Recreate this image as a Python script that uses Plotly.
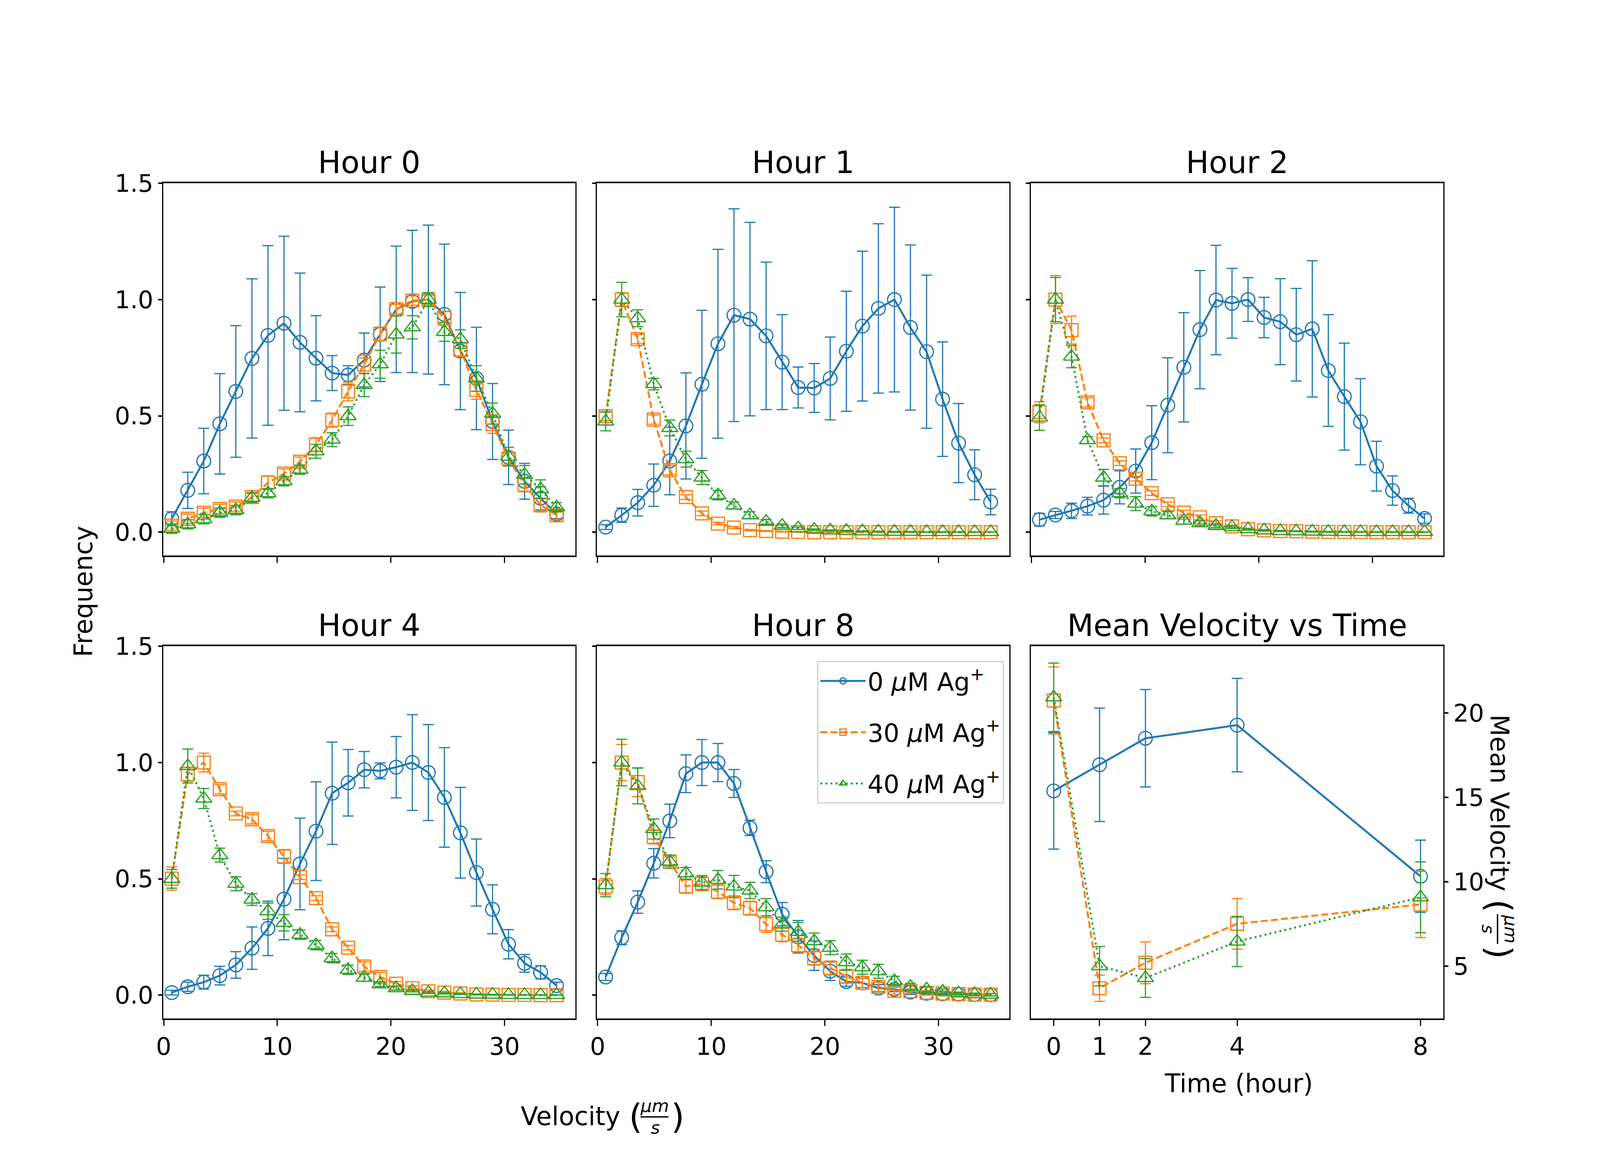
import plotly.graph_objects as go

# ---------------- data ----------------
velocity = [0.71, 2.12, 3.53, 4.94, 6.35, 7.77, 9.18, 10.59, 12.0, 13.41, 14.83, 16.24, 17.65,
            19.06, 20.47, 21.89, 23.3, 24.71, 26.12, 27.53, 28.95, 30.36, 31.77, 33.18, 34.59]

series_names = ["0 <i>μ</i>M Ag<sup>+</sup>", "30 <i>μ</i>M Ag<sup>+</sup>", "40 <i>μ</i>M Ag<sup>+</sup>"]
panel_titles = ["Hour 0", "Hour 1", "Hour 2", "Hour 4", "Hour 8", "Mean Velocity vs Time"]

# Hour 0
h0_0uM = [0.058, 0.18, 0.306, 0.466, 0.605, 0.747, 0.846, 0.898, 0.816, 0.748, 0.684, 0.676, 0.74, 0.851, 0.958,
          0.992, 1.0, 0.936, 0.779, 0.661, 0.476, 0.322, 0.219, 0.146, 0.078]
h0_0uM_err = [0.03, 0.078, 0.141, 0.216, 0.283, 0.342, 0.386, 0.374, 0.298, 0.183, 0.075, 0.04, 0.116, 0.203,
              0.272, 0.306, 0.32, 0.302, 0.252, 0.22, 0.163, 0.117, 0.077, 0.05, 0.02]
h0_30uM = [0.028, 0.058, 0.084, 0.10, 0.11, 0.151, 0.213, 0.252, 0.303, 0.376, 0.482, 0.605, 0.721, 0.852, 0.959,
           0.996, 1.0, 0.92, 0.785, 0.611, 0.465, 0.316, 0.204, 0.117, 0.073]
h0_30uM_err = [0.02, 0.02, 0.02, 0.02, 0.02, 0.02, 0.03, 0.02, 0.02, 0.03, 0.03, 0.04, 0.04, 0.03, 0.02,
               0.02, 0.02, 0.03, 0.03, 0.04, 0.04, 0.03, 0.03, 0.03, 0.02]
h0_40uM = [0.015, 0.034, 0.056, 0.084, 0.095, 0.148, 0.168, 0.219, 0.269, 0.348, 0.398, 0.499, 0.633, 0.722, 0.85,
           0.881, 1.0, 0.861, 0.83, 0.661, 0.51, 0.325, 0.247, 0.185, 0.107]
h0_40uM_err = [0.02, 0.02, 0.02, 0.02, 0.02, 0.02, 0.02, 0.02, 0.02, 0.03, 0.03, 0.04, 0.05, 0.06, 0.08,
               0.05, 0.03, 0.04, 0.04, 0.055, 0.045, 0.04, 0.04, 0.04, 0.02]

# Hour 1
h1_0uM = [0.022, 0.073, 0.127, 0.202, 0.306, 0.457, 0.636, 0.81, 0.933, 0.916, 0.844, 0.731, 0.622, 0.62, 0.661,
          0.778, 0.886, 0.962, 1.0, 0.88, 0.776, 0.572, 0.383, 0.247, 0.13]
h1_0uM_err = [0.01, 0.031, 0.057, 0.091, 0.145, 0.228, 0.318, 0.406, 0.457, 0.416, 0.317, 0.204, 0.088, 0.105,
              0.178, 0.258, 0.322, 0.364, 0.397, 0.355, 0.329, 0.246, 0.17, 0.107, 0.055]
h1_30uM = [0.499, 1.0, 0.83, 0.484, 0.267, 0.151, 0.081, 0.037, 0.02, 0.009, 0.005, 0.002, 0.001, 0.0, 0.0,
           0.0, 0.0, 0.0, 0.0, 0.0, 0.0, 0.0, 0.0, 0.0, 0.0]
h1_30uM_err = [0.02, 0.03, 0.02, 0.02, 0.02, 0.01, 0.01, 0.005, 0.005, 0.003, 0.002, 0.001, 0.001, 0.0, 0.0,
               0.0, 0.0, 0.0, 0.0, 0.0, 0.0, 0.0, 0.0, 0.0, 0.0]
h1_40uM = [0.476, 1.0, 0.92, 0.637, 0.448, 0.314, 0.235, 0.159, 0.115, 0.073, 0.045, 0.028, 0.017, 0.011, 0.008,
           0.006, 0.004, 0.003, 0.002, 0.002, 0.001, 0.001, 0.001, 0.001, 0.001]
h1_40uM_err = [0.04, 0.074, 0.036, 0.025, 0.034, 0.034, 0.03, 0.02, 0.015, 0.015, 0.01, 0.008, 0.005, 0.003,
               0.002, 0.002, 0.001, 0.001, 0.001, 0.001, 0.0, 0.0, 0.0, 0.0, 0.0]

# Hour 2
h2_0uM = [0.054, 0.074, 0.092, 0.112, 0.138, 0.193, 0.263, 0.385, 0.546, 0.709, 0.871, 0.998, 0.984, 1.0, 0.923,
          0.905, 0.849, 0.874, 0.695, 0.583, 0.475, 0.284, 0.179, 0.114, 0.059]
h2_0uM_err = [0.027, 0.015, 0.033, 0.038, 0.06, 0.071, 0.095, 0.159, 0.204, 0.235, 0.254, 0.235, 0.15, 0.094,
              0.087, 0.185, 0.199, 0.293, 0.24, 0.23, 0.185, 0.107, 0.063, 0.032, 0.02]
h2_30uM = [0.516, 1.0, 0.869, 0.558, 0.395, 0.297, 0.23, 0.168, 0.12, 0.084, 0.064, 0.039, 0.025, 0.013, 0.008,
           0.005, 0.004, 0.002, 0.001, 0.001, 0.001, 0.0, 0.0, 0.0, 0.0]
h2_30uM_err = [0.045, 0.103, 0.06, 0.02, 0.01, 0.01, 0.01, 0.01, 0.01, 0.01, 0.01, 0.01, 0.005, 0.004, 0.003,
               0.002, 0.001, 0.001, 0.0, 0.0, 0.0, 0.0, 0.0, 0.0, 0.0]
h2_40uM = [0.493, 1.0, 0.755, 0.396, 0.235, 0.168, 0.123, 0.09, 0.073, 0.05, 0.039, 0.028, 0.022, 0.013, 0.008,
           0.005, 0.004, 0.003, 0.002, 0.001, 0.001, 0.001, 0.001, 0.001, 0.001]
h2_40uM_err = [0.055, 0.095, 0.048, 0.015, 0.035, 0.02, 0.03, 0.02, 0.015, 0.015, 0.01, 0.008, 0.006, 0.004,
               0.003, 0.002, 0.001, 0.001, 0.001, 0.0, 0.0, 0.0, 0.0, 0.0, 0.0]

# Hour 4
h4_0uM = [0.011, 0.036, 0.056, 0.084, 0.13, 0.202, 0.287, 0.413, 0.564, 0.705, 0.868, 0.913, 0.969, 0.964, 0.98,
          1.0, 0.957, 0.85, 0.698, 0.527, 0.369, 0.219, 0.137, 0.098, 0.041]
h4_0uM_err = [0.01, 0.02, 0.03, 0.04, 0.057, 0.091, 0.117, 0.175, 0.197, 0.212, 0.22, 0.143, 0.078, 0.034,
              0.132, 0.206, 0.206, 0.214, 0.195, 0.144, 0.105, 0.063, 0.038, 0.028, 0.015]
h4_30uM = [0.501, 0.95, 1.0, 0.885, 0.781, 0.756, 0.684, 0.596, 0.507, 0.417, 0.283, 0.204, 0.123, 0.078, 0.049,
           0.03, 0.017, 0.011, 0.007, 0.003, 0.002, 0.001, 0.001, 0.0, 0.0]
h4_30uM_err = [0.05, 0.03, 0.04, 0.02, 0.01, 0.02, 0.02, 0.03, 0.01, 0.01, 0.01, 0.01, 0.02, 0.02, 0.01,
               0.01, 0.005, 0.005, 0.003, 0.002, 0.001, 0.001, 0.0, 0.0, 0.0]
h4_40uM = [0.5, 0.985, 0.845, 0.602, 0.479, 0.411, 0.361, 0.311, 0.26, 0.215, 0.159, 0.109, 0.075, 0.047, 0.03,
           0.019, 0.011, 0.008, 0.005, 0.003, 0.002, 0.001, 0.001, 0.001, 0.001]
h4_40uM_err = [0.04, 0.073, 0.043, 0.03, 0.03, 0.025, 0.035, 0.035, 0.02, 0.02, 0.02, 0.02, 0.015, 0.01, 0.008,
               0.005, 0.004, 0.003, 0.002, 0.001, 0.001, 0.0, 0.0, 0.0, 0.0]

# Hour 8
h8_0uM = [0.078, 0.247, 0.4, 0.567, 0.749, 0.952, 1.0, 1.0, 0.91, 0.719, 0.531, 0.348, 0.251, 0.17, 0.103,
          0.058, 0.053, 0.03, 0.025, 0.013, 0.008, 0.006, 0.004, 0.003, 0.002]
h8_0uM_err = [0.015, 0.03, 0.048, 0.063, 0.072, 0.081, 0.099, 0.082, 0.06, 0.033, 0.047, 0.05, 0.07, 0.063,
              0.04, 0.02, 0.02, 0.015, 0.01, 0.01, 0.005, 0.005, 0.005, 0.005, 0.005]
h8_30uM = [0.467, 1.0, 0.916, 0.68, 0.574, 0.468, 0.479, 0.445, 0.397, 0.374, 0.305, 0.26, 0.215, 0.159, 0.117,
           0.081, 0.053, 0.036, 0.019, 0.017, 0.01, 0.007, 0.005, 0.002, 0.002]
h8_30uM_err = [0.035, 0.078, 0.062, 0.03, 0.02, 0.03, 0.03, 0.03, 0.03, 0.03, 0.035, 0.03, 0.03, 0.03, 0.03,
               0.03, 0.02, 0.02, 0.015, 0.01, 0.01, 0.01, 0.005, 0.005, 0.005]
h8_40uM = [0.473, 1.0, 0.899, 0.714, 0.574, 0.524, 0.484, 0.496, 0.467, 0.45, 0.378, 0.305, 0.272, 0.232, 0.204,
           0.142, 0.12, 0.103, 0.061, 0.036, 0.025, 0.016, 0.008, 0.004, 0.002]
h8_40uM_err = [0.05, 0.1, 0.077, 0.043, 0.028, 0.025, 0.03, 0.04, 0.048, 0.035, 0.037, 0.03, 0.04, 0.035, 0.03,
               0.035, 0.03, 0.03, 0.02, 0.015, 0.01, 0.01, 0.005, 0.005, 0.005]

# Mean velocity vs time
time_hours = [0, 1, 2, 4, 8]
mean_0uM = [15.39, 16.94, 18.51, 19.29, 10.33]
mean_0uM_err = [3.45, 3.36, 2.89, 2.77, 2.14]
mean_30uM = [20.75, 3.69, 5.2, 7.51, 8.66]
mean_30uM_err = [1.99, 0.78, 1.24, 1.5, 1.96]
mean_40uM = [20.94, 5.0, 4.3, 6.46, 9.08]
mean_40uM_err = [2.03, 1.16, 1.15, 1.49, 2.1]

freq_ticks = [0.0, 0.5, 1.0, 1.5]
freq_ticktext = ["0.0", "0.5", "1.0", "1.5"]
vel_ticks = [0, 10, 20, 30]
mean_ticks = [5, 10, 15, 20]

# ---------------- style ----------------
# The browser viewport is 4096 px wide, so the figure fills 4096x3000 while keeping
# the reference's relative layout (reference positions below are given on a 6000x3000 grid).
W, H = 4096, 3000
REF_W, REF_H = 6000, 3000
FONT = "DejaVu Sans"
TICK = 62
LAB = 65
TIT = 78
LEG = 64
colors = ["#1f77b4", "#ff7f0e", "#2ca02c"]
symbols = ["circle-open", "square-open", "triangle-up-open"]
dashes = ["solid", "18px,8px", "5px,8px"]
msizes = [35, 33, 36]

X_DOM = [[0.1000, 0.3577], [0.3712, 0.6290], [0.6423, 0.9002]]
Y_DOM = [[0.5287, 0.8463], [0.1337, 0.4513]]


def px(x):
    return x / REF_W


def py(y):
    return 1 - y / REF_H


panel_data = [
    [(h0_0uM, h0_0uM_err), (h0_30uM, h0_30uM_err), (h0_40uM, h0_40uM_err)],
    [(h1_0uM, h1_0uM_err), (h1_30uM, h1_30uM_err), (h1_40uM, h1_40uM_err)],
    [(h2_0uM, h2_0uM_err), (h2_30uM, h2_30uM_err), (h2_40uM, h2_40uM_err)],
    [(h4_0uM, h4_0uM_err), (h4_30uM, h4_30uM_err), (h4_40uM, h4_40uM_err)],
    [(h8_0uM, h8_0uM_err), (h8_30uM, h8_30uM_err), (h8_40uM, h8_40uM_err)],
    [(mean_0uM, mean_0uM_err), (mean_30uM, mean_30uM_err), (mean_40uM, mean_40uM_err)],
]

fig = go.Figure()
for p, series in enumerate(panel_data):
    n = p + 1
    xs = time_hours if p == 5 else velocity
    for s, (vals, errs) in enumerate(series):
        fig.add_trace(go.Scatter(
            x=xs, y=vals,
            error_y=dict(type="data", array=errs, visible=True, color=colors[s], thickness=3, width=14),
            mode="lines+markers",
            line=dict(color=colors[s], width=5, dash=dashes[s]),
            marker=dict(symbol=symbols[s], size=msizes[s], color=colors[s],
                        line=dict(width=3.2, color=colors[s])),
            name=series_names[s], legendgroup=f"g{s}", showlegend=(p == 4),
            xaxis="x" if n == 1 else f"x{n}", yaxis="y" if n == 1 else f"y{n}",
        ))

common = dict(ticks="outside", tickcolor="black", showline=True, linecolor="black", mirror=True,
              showgrid=False, zeroline=False, automargin=False,
              tickfont=dict(family=FONT, size=TICK, color="black"))
x_common = dict(ticklen=15, tickwidth=2.5, linewidth=3.5, **common)
y_common = dict(ticklen=10, tickwidth=3.5, linewidth=2.6, **common)

layout = {}
for p in range(6):
    n = p + 1
    r, c = divmod(p, 3)
    xk = "xaxis" if n == 1 else f"xaxis{n}"
    yk = "yaxis" if n == 1 else f"yaxis{n}"
    if p < 5:
        layout[xk] = dict(domain=X_DOM[c], anchor="y" if n == 1 else f"y{n}",
                          range=[-0.05, 36.25], tickvals=vel_ticks,
                          showticklabels=(r == 1), **x_common)
        layout[yk] = dict(domain=Y_DOM[r], anchor="x" if n == 1 else f"x{n}",
                          range=[-0.1, 1.5], tickvals=freq_ticks, ticktext=freq_ticktext,
                          showticklabels=(c == 0), **y_common)
    else:
        layout[xk] = dict(domain=X_DOM[c], anchor=f"y{n}", range=[-0.5, 8.5],
                          tickvals=time_hours, showticklabels=True, **x_common)
        layout[yk] = dict(domain=Y_DOM[r], anchor=f"x{n}", range=[1.9, 23.97], side="right",
                          tickvals=mean_ticks, showticklabels=True, **y_common)

annotations = []
for p, t in enumerate(panel_titles):
    r, c = divmod(p, 3)
    annotations.append(dict(text=t, x=(X_DOM[c][0] + X_DOM[c][1]) / 2, y=Y_DOM[r][1],
                            xref="paper", yref="paper", xanchor="center", yanchor="bottom",
                            yshift=6, showarrow=False, font=dict(family=FONT, size=TIT, color="black")))


def ann(text, x, y, size, angle=0, xanchor="center"):
    annotations.append(dict(text=text, x=px(x), y=py(y), xref="paper", yref="paper",
                            xanchor=xanchor, yanchor="middle", textangle=angle, showarrow=False,
                            font=dict(family=FONT, size=size, color="black")))


# Frequency label (shared y label)
ann("Frequency", 300, 1506, LAB, angle=-90)
# Time label
ann("Time (hour)", 4633, 2765, LAB)
# Velocity (um/s) composite label
ann("Velocity", 2318, 2849, LAB, xanchor="right")
ann("(", 2372, 2849, 88)
ann(")", 2530, 2849, 88)
ann("<i>μm</i>", 2442, 2822, 45)
ann("<i>s</i>", 2446, 2878, 45)
# Mean Velocity (um/s) composite label, rotated
ann("Mean Velocity", 5612, 2047, LAB, angle=90)
ann("(", 5612, 2311, 88, angle=90)
ann(")", 5612, 2430, 88, angle=90)
ann("<i>μm</i>", 5655, 2370, 45, angle=90)
ann("<i>s</i>", 5570, 2370, 45, angle=90)

shapes = [
    dict(type="line", xref="paper", yref="paper", x0=px(2390), x1=px(2495), y0=py(2851), y1=py(2851),
         line=dict(color="black", width=3.5)),
    dict(type="line", xref="paper", yref="paper", x0=px(5604), x1=px(5604), y0=py(2332), y1=py(2408),
         line=dict(color="black", width=3.5)),
]

fig.update_layout(
    width=W, height=H, margin=dict(l=0, r=0, t=0, b=0),
    paper_bgcolor="white", plot_bgcolor="white",
    font=dict(family=FONT, size=TICK, color="black"),
    annotations=annotations, shapes=shapes,
    legend=dict(x=0.6255, xanchor="right", y=0.4387, yanchor="top",
                bgcolor="rgba(255,255,255,0.8)", bordercolor="#d0d0d0", borderwidth=3,
                font=dict(family=FONT, size=LEG, color="black"), itemwidth=116,
                traceorder="grouped", tracegroupgap=45),
    **layout,
)

fig.write_html("out.html")
